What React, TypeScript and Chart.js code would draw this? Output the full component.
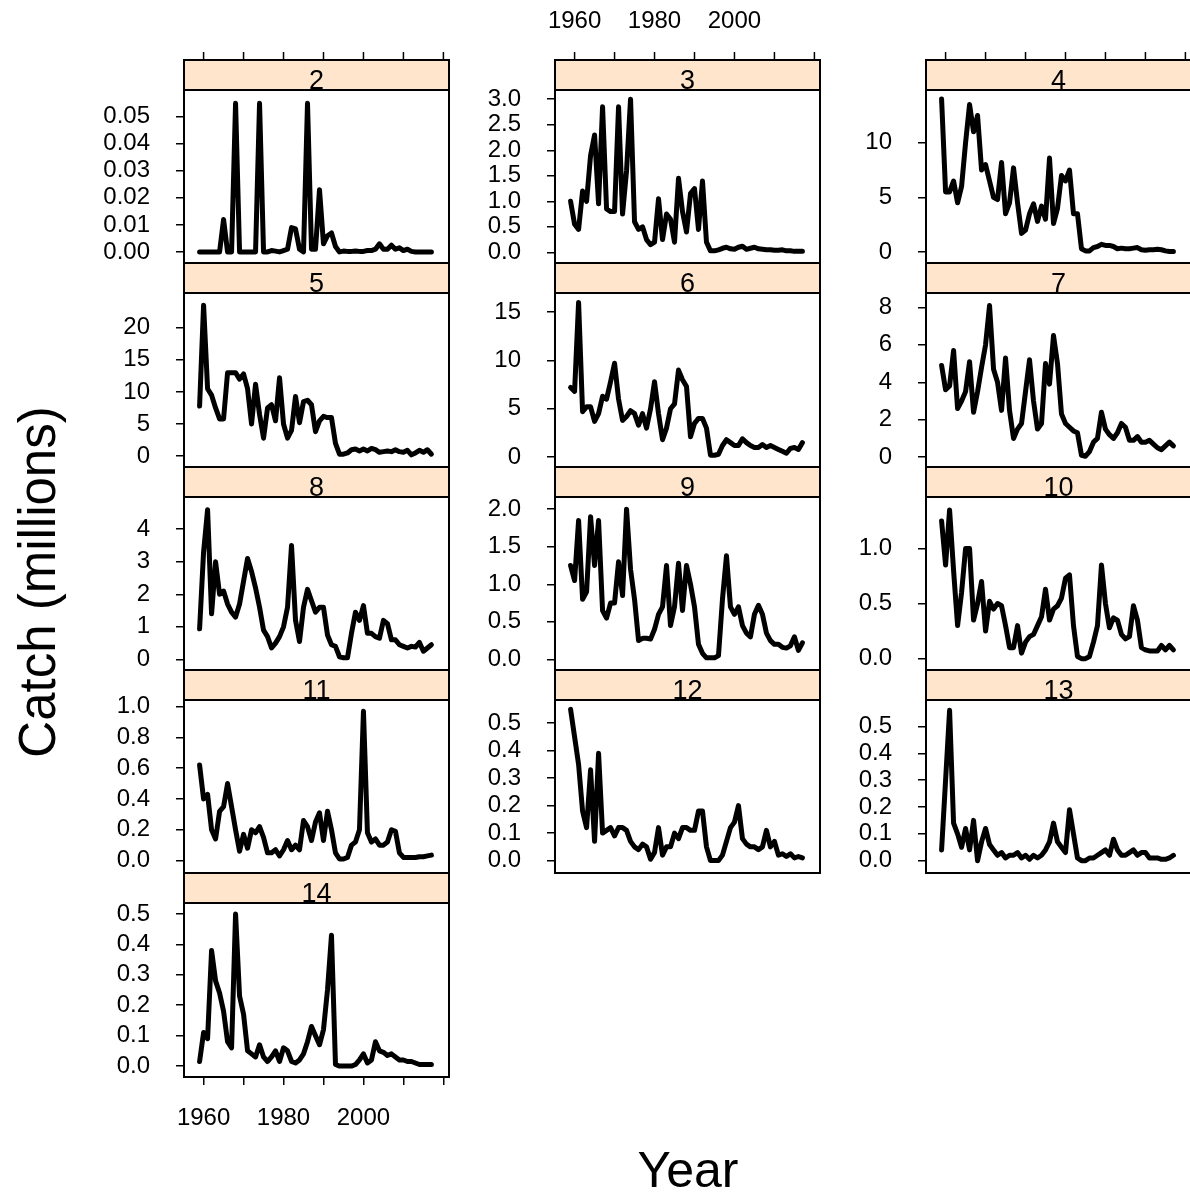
import React, { useEffect, useRef } from 'react';
import { Chart, registerables } from 'chart.js';
Chart.register(...registerables);

// ---------- DATA ----------
const years = [
  1959, 1960, 1961, 1962, 1963, 1964, 1965, 1966, 1967, 1968,
  1969, 1970, 1971, 1972, 1973, 1974, 1975, 1976, 1977, 1978,
  1979, 1980, 1981, 1982, 1983, 1984, 1985, 1986, 1987, 1988,
  1989, 1990, 1991, 1992, 1993, 1994, 1995, 1996, 1997, 1998,
  1999, 2000, 2001, 2002, 2003, 2004, 2005, 2006, 2007, 2008,
  2009, 2010, 2011, 2012, 2013, 2014, 2015, 2016, 2017,
];

const catch2 = [
  0, 0, 0, 0, 0, 0, 0.012, 0, 0, 0.055,
  0, 0, 0, 0, 0, 0.055, 0, 0, 0.0005, 0.0003,
  0, 0.0005, 0.001, 0.009, 0.0085, 0.001, 0, 0.055, 0.001, 0.001,
  0.023, 0.003, 0.006, 0.007, 0.002, 0, 0.0003, 0.0002, 0.0002, 0.0003,
  0.0002, 0.0002, 0.0005, 0.0005, 0.001, 0.003, 0.001, 0.001, 0.0025, 0.001,
  0.0015, 0.0005, 0.001, 0.0002, 0, 0, 0, 0, 0,
];
const catch3 = [
  1.0, 0.55, 0.45, 1.2, 1.0, 1.9, 2.3, 0.95, 2.85, 0.85,
  0.8, 0.8, 2.85, 0.75, 1.6, 3.0, 0.6, 0.45, 0.5, 0.25,
  0.15, 0.2, 1.05, 0.25, 0.75, 0.65, 0.2, 1.45, 0.8, 0.4,
  1.15, 1.25, 0.45, 1.4, 0.2, 0.03, 0.03, 0.05, 0.08, 0.1,
  0.07, 0.06, 0.1, 0.12, 0.06, 0.08, 0.1, 0.07, 0.06, 0.05,
  0.05, 0.04, 0.04, 0.05, 0.03, 0.03, 0.02, 0.02, 0.02,
];
const catch4 = [
  14.0, 5.5, 5.5, 6.5, 4.5, 6.0, 10.0, 13.5, 11.0, 12.5,
  7.5, 8.0, 6.5, 5.0, 4.8, 8.2, 3.5, 4.5, 7.7, 4.5,
  1.7, 2.0, 3.5, 4.4, 2.8, 4.2, 3.0, 8.6, 2.6, 4.0,
  7.0, 6.5, 7.5, 3.5, 3.5, 0.3, 0.1, 0.1, 0.4, 0.5,
  0.7, 0.6, 0.6, 0.5, 0.3, 0.35, 0.3, 0.3, 0.35, 0.4,
  0.2, 0.15, 0.2, 0.2, 0.25, 0.2, 0.1, 0.05, 0.05,
];
const catch5 = [
  7.8, 23.5, 10.5, 9.5, 7.5, 5.8, 5.8, 13.0, 13.0, 13.0,
  12.0, 12.8, 10.5, 5.0, 11.2, 6.5, 2.8, 7.5, 8.0, 5.5,
  12.2, 5.0, 2.8, 4.0, 9.3, 5.2, 8.5, 8.7, 8.0, 3.8,
  5.5, 6.2, 6.0, 6.0, 2.0, 0.3, 0.3, 0.5, 1.0, 1.1,
  0.8, 1.1, 0.8, 1.2, 1.0, 0.6, 0.7, 0.8, 0.7, 1.0,
  0.7, 0.6, 0.9, 0.2, 0.5, 0.9, 0.6, 1.0, 0.3,
];
const catch6 = [
  7.2, 6.8, 16.0, 4.7, 5.2, 5.2, 3.7, 4.5, 6.3, 6.0,
  7.8, 9.7, 6.0, 3.8, 4.2, 4.8, 4.5, 3.3, 4.5, 3.0,
  5.0, 7.8, 4.5, 1.8, 3.0, 5.0, 5.5, 9.0, 8.0, 7.3,
  2.1, 3.5, 4.0, 4.0, 3.0, 0.2, 0.2, 0.3, 1.2, 1.8,
  1.5, 1.2, 1.2, 1.9, 1.5, 1.2, 1.0, 1.0, 1.3, 1.0,
  1.2, 1.0, 0.8, 0.6, 0.4, 0.9, 1.0, 0.8, 1.5,
];
const catch7 = [
  4.9, 3.6, 3.8, 5.7, 2.6, 3.0, 3.5, 5.1, 2.4, 3.5,
  4.8, 6.0, 8.1, 4.7, 4.0, 2.5, 5.3, 2.5, 1.0, 1.5,
  1.8, 3.5, 5.2, 3.0, 1.5, 1.8, 5.0, 3.9, 6.5, 5.0,
  2.3, 1.8, 1.6, 1.4, 1.3, 0.1, 0.05, 0.3, 0.8, 1.0,
  2.4, 1.5, 1.2, 1.0, 1.3, 1.8, 1.6, 0.9, 0.9, 1.1,
  0.8, 0.8, 0.9, 0.7, 0.5, 0.4, 0.6, 0.8, 0.6,
];
const catch8 = [
  0.94, 3.3, 4.6, 1.4, 3.0, 2.0, 2.1, 1.7, 1.45, 1.3,
  1.7, 2.4, 3.1, 2.7, 2.2, 1.6, 0.9, 0.7, 0.35, 0.5,
  0.7, 1.0, 1.6, 3.5, 1.2, 0.55, 1.6, 2.15, 1.8, 1.45,
  1.6, 1.6, 0.75, 0.45, 0.4, 0.08, 0.05, 0.05, 0.8, 1.45,
  1.2, 1.65, 0.8, 0.8, 0.7, 0.65, 1.2, 1.1, 0.6, 0.6,
  0.45, 0.4, 0.35, 0.4, 0.38, 0.52, 0.25, 0.35, 0.45,
];
const catch9 = [
  1.25, 1.05, 1.85, 0.8, 0.9, 1.9, 1.25, 1.85, 0.65, 0.55,
  0.75, 0.75, 1.3, 0.85, 2.0, 1.2, 0.8, 0.25, 0.28, 0.28,
  0.27, 0.4, 0.6, 0.7, 1.25, 0.45, 0.7, 1.28, 0.65, 1.25,
  1.0, 0.7, 0.2, 0.08, 0.02, 0.02, 0.02, 0.05, 0.8, 1.38,
  0.7, 0.6, 0.7, 0.45, 0.35, 0.3, 0.6, 0.72, 0.6, 0.35,
  0.25, 0.2, 0.2, 0.16, 0.15, 0.18, 0.3, 0.12, 0.22,
];
const catch10 = [
  1.25, 0.85, 1.35, 0.8, 0.3, 0.6, 1.0, 1.0, 0.35, 0.5,
  0.7, 0.25, 0.52, 0.45, 0.5, 0.48, 0.3, 0.1, 0.1, 0.3,
  0.05, 0.15, 0.2, 0.22, 0.3, 0.38, 0.63, 0.35, 0.45, 0.48,
  0.55, 0.73, 0.76, 0.3, 0.02, 0.0, 0.0, 0.02, 0.15, 0.3,
  0.85, 0.5, 0.28, 0.37, 0.35, 0.22, 0.18, 0.2, 0.48, 0.35,
  0.1, 0.08, 0.07, 0.07, 0.07, 0.12, 0.08, 0.12, 0.08,
];
const catch11 = [
  0.62, 0.4, 0.43, 0.2, 0.14, 0.32, 0.35, 0.5, 0.35, 0.2,
  0.06, 0.17, 0.08, 0.2, 0.18, 0.22, 0.15, 0.05, 0.05, 0.07,
  0.03, 0.07, 0.13, 0.07, 0.1, 0.07, 0.26, 0.22, 0.13, 0.25,
  0.31, 0.13, 0.32, 0.2, 0.05, 0.01, 0.01, 0.02, 0.1, 0.12,
  0.2, 0.97, 0.18, 0.12, 0.14, 0.1, 0.1, 0.12, 0.2, 0.19,
  0.05, 0.02, 0.02, 0.02, 0.02, 0.025, 0.025, 0.03, 0.035,
];
const catch12 = [
  0.55, 0.45, 0.35, 0.18, 0.12, 0.33, 0.07, 0.39, 0.1, 0.11,
  0.12, 0.09, 0.12, 0.12, 0.11, 0.07, 0.05, 0.04, 0.06, 0.05,
  0.005, 0.03, 0.12, 0.02, 0.05, 0.05, 0.1, 0.08, 0.12, 0.12,
  0.11, 0.11, 0.18, 0.18, 0.05, 0.0, 0.0, 0.0, 0.02, 0.07,
  0.12, 0.14, 0.2, 0.08, 0.06, 0.05, 0.05, 0.04, 0.05, 0.11,
  0.05, 0.07, 0.02, 0.025, 0.015, 0.025, 0.01, 0.015, 0.01,
];
const catch13 = [
  0.04, 0.3, 0.56, 0.14, 0.1, 0.05, 0.12, 0.04, 0.15, 0.0,
  0.07, 0.12, 0.06, 0.04, 0.02, 0.03, 0.01, 0.02, 0.02, 0.03,
  0.01, 0.02, 0.005, 0.02, 0.01, 0.02, 0.04, 0.07, 0.14, 0.07,
  0.05, 0.03, 0.19, 0.1, 0.01, 0.0, 0.0, 0.01, 0.01, 0.02,
  0.03, 0.04, 0.02, 0.08, 0.04, 0.02, 0.02, 0.03, 0.04, 0.02,
  0.03, 0.03, 0.01, 0.01, 0.01, 0.005, 0.005, 0.01, 0.02,
];
const catch14 = [
  0.015, 0.11, 0.09, 0.38, 0.28, 0.24, 0.18, 0.08, 0.06, 0.5,
  0.23, 0.17, 0.05, 0.04, 0.03, 0.07, 0.03, 0.015, 0.03, 0.05,
  0.015, 0.06, 0.05, 0.015, 0.01, 0.02, 0.04, 0.08, 0.13, 0.1,
  0.07, 0.12, 0.25, 0.43, 0.005, 0.0, 0.0, 0.0, 0.0, 0.005,
  0.02, 0.04, 0.01, 0.02, 0.08, 0.05, 0.045, 0.035, 0.04, 0.03,
  0.02, 0.02, 0.015, 0.015, 0.01, 0.005, 0.005, 0.005, 0.005,
];

// tick labels
const xTickValues = [1960, 1970, 1980, 1990, 2000, 2010, 2020];
const xTickLabels = [1960, 1980, 2000];
const ticks2 = [0, 0.01, 0.02, 0.03, 0.04, 0.05];
const ticks3 = [0, 0.5, 1.0, 1.5, 2.0, 2.5, 3.0];
const ticks4 = [0, 5, 10];
const ticks5 = [0, 5, 10, 15, 20];
const ticks6 = [0, 5, 10, 15];
const ticks7 = [0, 2, 4, 6, 8];
const ticks8 = [0, 1, 2, 3, 4];
const ticks9 = [0, 0.5, 1.0, 1.5, 2.0];
const ticks10 = [0, 0.5, 1.0];
const ticks11 = [0, 0.2, 0.4, 0.6, 0.8, 1.0];
const ticks12 = [0, 0.1, 0.2, 0.3, 0.4, 0.5];
const ticks13 = [0, 0.1, 0.2, 0.3, 0.4, 0.5];
const ticks14 = [0, 0.1, 0.2, 0.3, 0.4, 0.5];

// ---------- LAYOUT ----------
const FONT = '"Liberation Sans", Arial, Helvetica, sans-serif';
const TICK_FONT_SIZE = 24;
const STRIP_FONT_SIZE = 27;
const X_MIN = 1955.1;
const X_MAX = 2021.4;
const COL_LEFT = [184, 555, 926];
const ROW_TOP = [60, 263, 467, 670, 873, 1077];
const PANEL_W = 265;
const STRIP_H = 30;
const LEFT_W = 100;
const PAD_T = 60;
const PAD_B = 60;
const PAD_R = 10;

type PanelCfg = {
  label: string;
  data: number[];
  ticks: number[];
  dec: number;
  yMin: number;
  yMax: number;
  col: number;
  row: number;
  topTicks?: boolean;
  topLabels?: boolean;
  bottomAxis?: boolean;
};

const panels: PanelCfg[] = [
  { label: '2', data: catch2, ticks: ticks2, dec: 2, yMin: -0.0041, yMax: 0.0599, col: 0, row: 0, topTicks: true },
  { label: '3', data: catch3, ticks: ticks3, dec: 1, yMin: -0.208, yMax: 3.18, col: 1, row: 0, topTicks: true, topLabels: true },
  { label: '4', data: catch4, ticks: ticks4, dec: 0, yMin: -1.01, yMax: 14.83, col: 2, row: 0, topTicks: true },
  { label: '5', data: catch5, ticks: ticks5, dec: 0, yMin: -1.69, yMax: 25.4, col: 0, row: 1 },
  { label: '6', data: catch6, ticks: ticks6, dec: 0, yMin: -1.02, yMax: 16.97, col: 1, row: 1 },
  { label: '7', data: catch7, ticks: ticks7, dec: 0, yMin: -0.526, yMax: 8.77, col: 2, row: 1 },
  { label: '8', data: catch8, ticks: ticks8, dec: 0, yMin: -0.327, yMax: 4.99, col: 0, row: 2 },
  { label: '9', data: catch9, ticks: ticks9, dec: 1, yMin: -0.142, yMax: 2.163, col: 1, row: 2 },
  { label: '10', data: catch10, ticks: ticks10, dec: 1, yMin: -0.103, yMax: 1.467, col: 2, row: 2 },
  { label: '11', data: catch11, ticks: ticks11, dec: 1, yMin: -0.081, yMax: 1.043, col: 0, row: 3 },
  { label: '12', data: catch12, ticks: ticks12, dec: 1, yMin: -0.045, yMax: 0.584, col: 1, row: 3 },
  { label: '13', data: catch13, ticks: ticks13, dec: 1, yMin: -0.046, yMax: 0.5985, col: 2, row: 3 },
  { label: '14', data: catch14, ticks: ticks14, dec: 1, yMin: -0.036, yMax: 0.536, col: 0, row: 4, bottomAxis: true },
];

function Panel({ cfg }: { cfg: PanelCfg }) {
  const ref = useRef<HTMLCanvasElement>(null);
  const stripTop = ROW_TOP[cfg.row];
  const rowH = ROW_TOP[cfg.row + 1] - stripTop;
  const W = LEFT_W + PANEL_W + PAD_R;
  const H = PAD_T + rowH + PAD_B;
  const left = COL_LEFT[cfg.col] - LEFT_W;
  const top = stripTop - PAD_T;

  useEffect(() => {
    if (!ref.current) return;
    const decor = {
      id: 'panelDecor' + cfg.label,
      afterDatasetsDraw(chart: any) {
        const { ctx, chartArea: a, scales } = chart;
        const sTop = a.top - STRIP_H;
        ctx.save();
        ctx.fillStyle = '#FFE5CC';
        ctx.fillRect(a.left, sTop, a.right - a.left, STRIP_H);
        ctx.strokeStyle = '#000';
        ctx.lineWidth = 2;
        ctx.strokeRect(a.left, sTop, a.right - a.left, STRIP_H);
        ctx.strokeRect(a.left, a.top, a.right - a.left, a.bottom - a.top);
        ctx.fillStyle = '#000';
        ctx.font = STRIP_FONT_SIZE + 'px ' + FONT;
        ctx.textAlign = 'center';
        ctx.textBaseline = 'alphabetic';
        ctx.fillText(cfg.label, (a.left + a.right) / 2, sTop + 28.5);
        if (cfg.topTicks) {
          ctx.lineWidth = 1.5;
          ctx.beginPath();
          xTickValues.forEach((v) => {
            const px = scales.x.getPixelForValue(v);
            ctx.moveTo(px, sTop - 8);
            ctx.lineTo(px, sTop);
          });
          ctx.stroke();
        }
        if (cfg.topLabels) {
          ctx.font = TICK_FONT_SIZE + 'px ' + FONT;
          ctx.textAlign = 'center';
          xTickLabels.forEach((v) => {
            const px = scales.x.getPixelForValue(v);
            ctx.fillText(String(v), px, sTop - 32);
          });
        }
        ctx.restore();
      },
    };

    const chart = new Chart(ref.current, {
      type: 'line',
      data: {
        datasets: [
          {
            data: years.map((yr, i) => ({ x: yr, y: cfg.data[i] })),
            borderColor: '#000',
            borderWidth: 5,
            pointRadius: 0,
            tension: 0,
            borderJoinStyle: 'round',
            borderCapStyle: 'round',
            fill: false,
          } as any,
        ],
      },
      options: {
        responsive: false,
        animation: false,
        devicePixelRatio: 1,
        events: [],
        layout: {
          padding: { left: 0, right: PAD_R, top: PAD_T + STRIP_H, bottom: cfg.bottomAxis ? 0 : PAD_B },
        },
        plugins: { legend: { display: false }, tooltip: { enabled: false } },
        scales: {
          x: {
            type: 'linear',
            min: X_MIN,
            max: X_MAX,
            display: !!cfg.bottomAxis,
            position: 'bottom',
            afterFit: (s: any) => {
              s.height = cfg.bottomAxis ? PAD_B : 0;
              s.paddingLeft = 0;
              s.paddingRight = 0;
            },
            afterBuildTicks: (s: any) => { s.ticks = xTickValues.map((v) => ({ value: v })); },
            grid: { drawOnChartArea: false, drawTicks: true, tickLength: 8, color: '#000', lineWidth: 1.5 },
            border: { display: false },
            ticks: {
              autoSkip: false,
              maxRotation: 0,
              padding: 19,
              color: '#000',
              font: { family: FONT, size: TICK_FONT_SIZE },
              callback: (v: any) => (xTickLabels.includes(Number(v)) ? String(v) : ''),
            },
          },
          y: {
            type: 'linear',
            min: cfg.yMin,
            max: cfg.yMax,
            position: 'left',
            afterFit: (s: any) => {
              s.width = LEFT_W;
              s.paddingTop = 0;
              s.paddingBottom = 0;
            },
            afterBuildTicks: (s: any) => { s.ticks = cfg.ticks.map((v) => ({ value: v })); },
            grid: { drawOnChartArea: false, drawTicks: true, tickLength: 8, color: '#000', lineWidth: 1.5 },
            border: { display: false },
            ticks: {
              autoSkip: false,
              padding: 26,
              color: '#000',
              font: { family: FONT, size: TICK_FONT_SIZE },
              callback: (v: any) => Number(v).toFixed(cfg.dec),
            },
          },
        },
      } as any,
      plugins: [decor as any],
    });
    return () => chart.destroy();
  }, []);

  return (
    <canvas
      ref={ref}
      width={W}
      height={H}
      style={{ position: 'absolute', left, top, width: W, height: H }}
    />
  );
}

export default function App() {
  return (
    <div
      style={{
        position: 'absolute',
        left: 0,
        top: 0,
        width: 1190,
        height: 1196,
        overflow: 'hidden',
        background: '#fff',
      }}
    >
      {panels.map((p) => (
        <Panel key={p.label} cfg={p} />
      ))}
      <div
        style={{
          position: 'absolute',
          left: 37,
          top: 582,
          transform: 'translate(-50%, -50%) rotate(-90deg)',
          fontFamily: FONT,
          fontSize: 51,
          whiteSpace: 'nowrap',
          color: '#000',
        }}
      >
        Catch (millions)
      </div>
      <div
        style={{
          position: 'absolute',
          left: 688,
          top: 1170,
          transform: 'translate(-50%, -50%)',
          fontFamily: FONT,
          fontSize: 50,
          whiteSpace: 'nowrap',
          color: '#000',
        }}
      >
        Year
      </div>
    </div>
  );
}
